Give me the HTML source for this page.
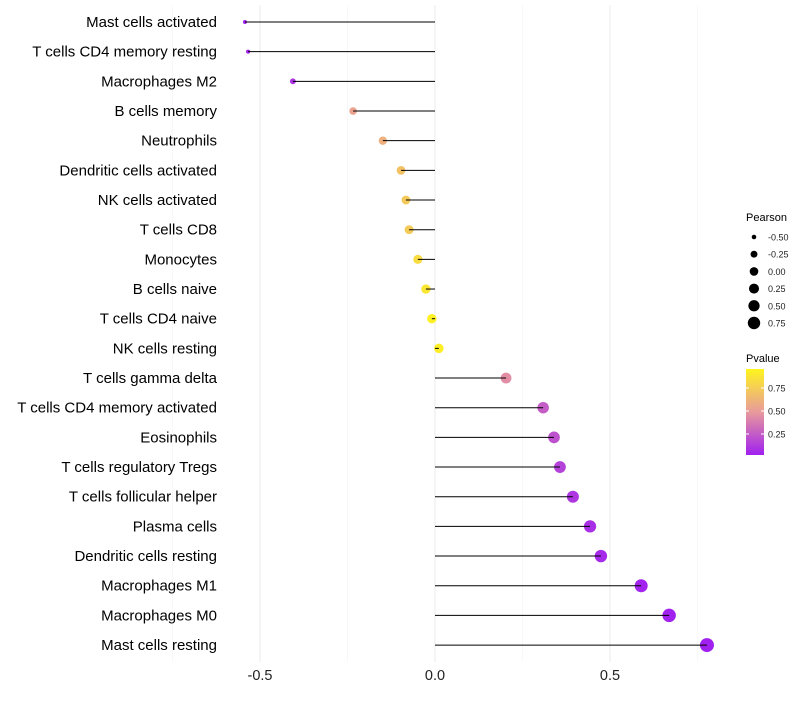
<!DOCTYPE html>
<html><head><meta charset="utf-8"><style>
body{margin:0;background:#fff;}
svg{font-family:"Liberation Sans",sans-serif;}
</style></head><body>
<svg id="c" width="800" height="700">
<defs><linearGradient id="pg" x1="0" y1="1" x2="0" y2="0">
<stop offset="0" stop-color="#A020F0"/><stop offset="0.5" stop-color="#E89A9C"/><stop offset="1" stop-color="#FFF51E"/>
</linearGradient></defs>
<g id="grid"></g><g id="dots"></g><g id="marks"></g><g id="labels"></g>
<g id="legend">
<text x="746" y="221" font-size="11">Pearson</text>
<text x="746" y="362" font-size="11">Pvalue</text>
<rect x="746" y="369" width="18" height="86" fill="url(#pg)"/>
</g>
</svg>
<script>
const categories=["Mast cells activated","T cells CD4 memory resting","Macrophages M2","B cells memory","Neutrophils","Dendritic cells activated","NK cells activated","T cells CD8","Monocytes","B cells naive","T cells CD4 naive","NK cells resting","T cells gamma delta","T cells CD4 memory activated","Eosinophils","T cells regulatory  Tregs ","T cells follicular helper","Plasma cells","Dendritic cells resting","Macrophages M1","Macrophages M0","Mast cells resting"];
const pearson=[-0.543,-0.534,-0.406,-0.234,-0.149,-0.097,-0.083,-0.074,-0.049,-0.026,-0.009,0.011,0.203,0.309,0.34,0.357,0.394,0.443,0.474,0.589,0.669,0.777];
const pvalue=[0.01,0.02,0.08,0.55,0.62,0.72,0.76,0.77,0.86,0.92,0.98,0.96,0.45,0.25,0.2,0.14,0.09,0.06,0.04,0.015,0.005,0.001];
const xTicks=[-0.5,0,0.5];
const xTickLabels=["-0.5","0.0","0.5"];
const legendVals=[-0.5,-0.25,0,0.25,0.5,0.75];
const legendLabels=["-0.50","-0.25","0.00","0.25","0.50","0.75"];
const pTicks=[0.25,0.5,0.75];
const NS="http://www.w3.org/2000/svg";
const x=v=>435+v*350;
const y=i=>22+i*29.67;
const r=v=>Math.sqrt(Math.max(1,22.5+34.2*v));
const rl=v=>Math.sqrt(Math.max(1,18.5+26.5*v));
function col(p){
  const st=[[0,[160,32,240]],[0.5,[232,154,156]],[1,[255,245,30]]];
  p=Math.max(0,Math.min(1,p));
  let a=st[0],b=st[1];if(p>0.5){a=st[1];b=st[2];}
  const t=(p-a[0])/(b[0]-a[0]);
  return "rgb("+a[1].map((c,k)=>Math.round(c+(b[1][k]-c)*t)).join(",")+")";
}
function mk(tag,at,parent){const e=document.createElementNS(NS,tag);for(const k in at)e.setAttribute(k,at[k]);document.getElementById(parent).appendChild(e);return e;}
[-0.75,-0.25,0.25,0.75].forEach(v=>{const l=mk("line",{x1:x(v),x2:x(v),y1:5,y2:662,stroke:"#f4f4f4","stroke-width":0.6},"grid");

});
xTicks.forEach((v,i)=>{const l=mk("line",{x1:x(v),x2:x(v),y1:5,y2:662,stroke:"#ebebeb","stroke-width":1},"grid");


const t=mk("text",{x:x(v),y:680,"font-size":14.5,"text-anchor":"middle",fill:"#222"},"labels");t.textContent=xTickLabels[i];

});
categories.forEach((c,i)=>{
  const t=mk("text",{x:217,y:y(i)+5,"font-size":15,"text-anchor":"end",fill:"#000"},"labels");t.textContent=c;
  
  
  const d=mk("circle",{cx:x(pearson[i]),cy:y(i),r:r(pearson[i]),fill:col(pvalue[i])},"dots");
  
  
  const l=mk("line",{x1:x(0),x2:x(pearson[i]),y1:y(i),y2:y(i),stroke:"#000","stroke-width":1},"marks");
  
  
});
legendVals.forEach((v,i)=>{const cy=237+i*17.2;
  const d=mk("circle",{cx:754,cy:cy,r:rl(v),fill:"#000"},"legend");
  
  
  const t=mk("text",{x:768,y:cy+3.5,"font-size":9,fill:"#222"},"legend");t.textContent=legendLabels[i];
  
  });
pTicks.forEach(p=>{const cy=457-p*92;
  mk("line",{x1:746,x2:749,y1:cy,y2:cy,stroke:"#fff"},"legend");mk("line",{x1:761,x2:764,y1:cy,y2:cy,stroke:"#fff"},"legend");
  const t=mk("text",{x:768,y:cy+3.5,"font-size":9,fill:"#222"},"legend");t.textContent=p.toFixed(2);
  
  });
</script>
</body></html>
